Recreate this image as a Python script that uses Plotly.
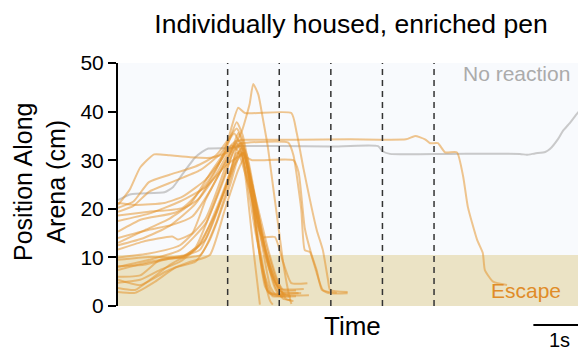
import plotly.graph_objects as go

# ---------------- data (time in s, position in cm) ----------------
gray_t = [0, 0.25, 0.9, 1.07, 1.24, 1.49, 1.63, 1.75, 2.2, 2.36, 3.14, 4.11, 5.04, 5.12, 5.27, 6.43, 7.79, 7.92, 8.08, 8.28, 8.37, 8.53, 8.62, 8.76, 8.89, 9.07]
gray_v = [21.8, 23.0, 23.4, 24.5, 27.0, 30.5, 31.7, 32.4, 32.5, 32.9, 32.9, 32.8, 32.9, 31.9, 31.3, 31.3, 31.3, 31.1, 31.4, 31.7, 32.3, 34.4, 36.0, 37.7, 39.5, 41.6]

esc_t = [0, 0.5, 1.0, 1.4, 1.8, 2.1, 2.3, 2.5, 3.5, 4.5, 5.58, 5.76, 5.95, 6.05, 6.2, 6.34, 6.57, 6.69, 6.78, 6.96, 7.07, 7.11, 7.27, 7.54]
esc_v = [13.0, 15.5, 18.0, 21.0, 27.5, 32.0, 34.0, 34.2, 34.2, 34.3, 34.3, 35.0, 34.3, 33.5, 33.5, 31.6, 31.6, 26.6, 20.4, 13.6, 10.9, 7.4, 5.0, 4.3]

b1_t = [0, 0.5, 1.0, 1.5, 1.9, 2.1, 2.33, 2.46, 3.36, 3.46, 3.6, 3.85, 3.97, 4.07, 4.11, 4.45]
b1_v = [12.5, 14.0, 16.5, 21.0, 28.0, 33.0, 40.8, 39.7, 39.7, 35.8, 28.0, 15.7, 11.5, 5.4, 3.3, 2.9]

b2_t = [0, 0.6, 1.2, 1.7, 2.0, 2.3, 2.5, 3.3, 3.4, 3.55, 3.62, 3.72, 3.97, 4.24]
b2_v = [8.0, 9.5, 11.5, 17.0, 25.0, 33.2, 33.6, 33.6, 31.0, 20.0, 11.5, 11.1, 3.3, 2.7]

b3_t = [0, 0.6, 1.2, 1.7, 2.1, 2.4, 2.6, 3.4, 3.5, 3.62, 3.75, 3.85, 3.95, 4.11, 4.45]
b3_v = [17.5, 19.0, 21.5, 24.5, 29.0, 31.0, 30.0, 30.0, 27.5, 16.0, 10.6, 7.4, 3.3, 2.6, 2.6]

b4_t = [0, 0.6, 1.2, 1.7, 2.2, 2.4, 2.55, 2.62, 2.72, 2.8, 2.9, 3.0, 3.1, 3.2, 3.3, 3.36]
b4_v = [10.0, 10.8, 12.5, 18.0, 32.0, 36.0, 41.5, 45.7, 43.5, 39.0, 33.0, 25.0, 17.0, 9.0, 3.0, 0.4]

a1_t = [0, 0.23, 0.43, 0.7, 1.0, 1.4, 1.8, 2.1, 2.35, 2.5, 2.7, 2.9, 3.05, 3.15, 3.45]
a1_v = [20.8, 24.0, 28.5, 31.2, 31.0, 30.6, 30.5, 31.5, 34.0, 31.0, 20.0, 9.0, 3.5, 2.0, 2.0]

a2_t = [0, 0.3, 0.6, 1.0, 1.5, 1.9, 2.15, 2.3, 2.42, 2.6, 2.75, 2.85, 2.95, 3.3]
a2_v = [20.2, 21.5, 25.5, 27.0, 28.7, 31.0, 34.5, 36.5, 34.0, 22.0, 10.0, 4.0, 2.5, 2.3]

a3_t = [0, 0.3, 0.6, 1.0, 1.6, 2.0, 2.25, 2.38, 2.5, 2.62, 2.72, 2.75]
a3_v = [19.4, 20.6, 23.5, 25.3, 28.0, 31.5, 35.5, 33.0, 24.0, 12.0, 3.0, 0.3]

a4_t = [0, 0.35, 0.9, 1.25, 1.7, 2.0, 2.2, 2.32, 2.55, 2.8, 3.0, 3.15, 3.25, 3.5]
a4_v = [21.2, 20.8, 21.2, 22.5, 26.0, 30.0, 33.0, 32.0, 24.0, 14.0, 6.0, 3.0, 2.6, 2.6]

a5_t = [0, 0.6, 1.25, 1.7, 2.05, 2.3, 2.42, 2.6, 2.85, 3.05, 3.15, 3.6]
a5_v = [18.6, 19.4, 20.2, 25.0, 31.0, 37.8, 35.0, 25.0, 12.0, 5.0, 3.5, 3.5]

a6_t = [0, 0.45, 1.1, 1.55, 1.9, 2.2, 2.35, 2.45, 2.65, 2.85, 3.0, 3.35]
a6_v = [15.3, 17.8, 19.2, 21.9, 27.0, 32.5, 33.0, 29.0, 16.0, 6.0, 2.3, 2.0]

a7_t = [0, 0.6, 1.05, 1.44, 1.8, 2.1, 2.3, 2.45, 2.7, 2.95, 3.15, 3.3, 3.55]
a7_v = [14.0, 15.7, 16.7, 18.4, 24.0, 30.0, 33.5, 29.0, 17.0, 7.0, 3.0, 2.8, 2.6]

a8_t = [0, 0.47, 1.05, 1.16, 1.44, 1.7, 2.0, 2.2, 2.33, 2.45, 2.6, 2.7, 2.8, 3.04, 3.2, 3.36, 3.67]
a8_v = [11.6, 13.2, 14.3, 13.7, 15.0, 21.9, 28.0, 32.0, 35.6, 32.0, 24.0, 17.0, 14.2, 14.2, 9.0, 4.7, 4.7]

a9_t = [0, 0.6, 1.25, 1.5, 1.78, 2.05, 2.25, 2.38, 2.5, 2.7, 2.95, 3.2, 3.7]
a9_v = [9.5, 10.1, 10.1, 12.0, 18.8, 26.0, 32.0, 33.0, 29.0, 18.0, 8.0, 2.5, 2.2]

a10_t = [0, 0.62, 1.2, 1.59, 2.07, 2.3, 2.4, 2.55, 2.7, 2.85, 2.95, 3.0]
a10_v = [7.4, 9.1, 10.1, 11.6, 24.0, 31.5, 31.0, 25.0, 14.0, 5.0, 1.0, 0.3]

a11_t = [0, 0.43, 0.81, 1.3, 1.69, 2.17, 2.3, 2.38, 2.5, 2.65, 2.8, 2.92, 3.2]
a11_v = [6.0, 6.3, 9.5, 10.5, 13.6, 27.0, 32.5, 33.5, 29.0, 18.0, 7.0, 2.8, 2.5]

a12_t = [0, 0.43, 0.81, 1.2, 1.59, 1.98, 2.27, 2.4, 2.55, 2.8, 3.05, 3.2, 3.45]
a12_v = [4.8, 5.4, 7.4, 9.1, 12.6, 21.9, 30.2, 32.5, 27.0, 15.0, 6.0, 3.3, 3.2]

a13_t = [0, 0.33, 0.62, 1.01, 1.5, 1.88, 2.27, 2.42, 2.6, 2.9, 3.1, 3.25, 3.4]
a13_v = [3.7, 3.3, 5.4, 8.5, 11.6, 18.8, 29.2, 31.5, 25.0, 12.0, 5.0, 1.5, 1.0]

a14_t = [0, 0.33, 0.72, 1.11, 1.5, 1.78, 2.17, 2.35, 2.45, 2.6, 2.8, 2.95, 3.05, 3.25]
a14_v = [2.9, 2.7, 5.0, 7.9, 9.1, 13.6, 24.8, 31.0, 31.5, 25.0, 12.0, 4.0, 2.4, 2.4]

a15_t = [0, 0.43, 0.91, 1.4, 1.78, 2.07, 2.33, 2.45, 2.6, 2.85, 3.05, 3.2, 3.35]
a15_v = [5.4, 4.3, 7.0, 9.1, 10.5, 19.8, 28.0, 30.5, 24.0, 11.0, 4.0, 1.5, 1.2]

a16_t = [0, 0.5, 1.0, 1.6, 1.9, 2.2, 2.35, 2.45, 2.6, 2.75, 2.9, 3.0, 3.2]
a16_v = [8.2, 8.5, 9.7, 10.5, 17.0, 27.0, 31.8, 31.0, 23.0, 12.0, 3.5, 2.0, 2.0]

stim_times = [2.125, 3.125, 4.125, 5.125, 6.125]
escape_zone = [0, 10.5]
x_range = [0, 9.07]
y_ticks = [0, 10, 20, 30, 40, 50]
scale_bar = [8.05, 9.07]

orange_tracks = [
    (a1_t, a1_v), (a2_t, a2_v), (a3_t, a3_v), (a4_t, a4_v), (a5_t, a5_v),
    (a6_t, a6_v), (a7_t, a7_v), (a8_t, a8_v), (a9_t, a9_v), (a10_t, a10_v),
    (a11_t, a11_v), (a12_t, a12_v), (a13_t, a13_v), (a14_t, a14_v), (a15_t, a15_v),
    (a16_t, a16_v), (b1_t, b1_v), (b2_t, b2_v), (b3_t, b3_v), (b4_t, b4_v),
    (esc_t, esc_v),
]

FONT = "Liberation Sans, Arial, sans-serif"
ORANGE = "rgba(228,145,40,0.52)"

# page body has an 8px margin, so the figure is 578x344 placed at (8, 8)
W, H = 578, 344
L, T, B = 110, 55, 46
PH = H - T - B

fig = go.Figure()

fig.add_trace(go.Scatter(x=gray_t, y=gray_v, mode="lines",
                         line=dict(color="rgba(175,175,175,0.65)", width=2, shape="spline", smoothing=0.5),
                         hoverinfo="skip", showlegend=False))
for tt, vv in orange_tracks:
    fig.add_trace(go.Scatter(x=tt, y=vv, mode="lines",
                             line=dict(color=ORANGE, width=2, shape="spline", smoothing=0.5),
                             hoverinfo="skip", showlegend=False))

# escape zone band
fig.add_shape(type="rect", xref="paper", yref="y", x0=0, x1=1,
              y0=escape_zone[0], y1=escape_zone[1],
              fillcolor="#ebe3c5", line_width=0, layer="below")

# stimulus dashed lines
for s in stim_times:
    fig.add_shape(type="line", xref="x", yref="paper", x0=s, x1=s, y0=0, y1=1,
                  line=dict(color="#333333", width=1.5, dash="6px,5px"), layer="above")

# scale bar
fig.add_shape(type="line", xref="x", yref="paper", x0=scale_bar[0], x1=scale_bar[1],
              y0=-19 / PH, y1=-19 / PH, line=dict(color="black", width=2))

fig.add_annotation(x=(scale_bar[0] + scale_bar[1]) / 2, xref="x", y=-34 / PH, yref="paper",
                   text="1s", showarrow=False, font=dict(family=FONT, size=20, color="black"),
                   yanchor="middle")
fig.add_annotation(x=0.5, xref="paper", y=-20 / PH, yref="paper", text="Time",
                   showarrow=False, font=dict(family=FONT, size=26, color="black"),
                   yanchor="middle")
fig.add_annotation(x=-(118 - 39) / 468, xref="paper", y=(306 - 182) / 243, yref="paper",
                   text="Position Along<br>Arena (cm)", textangle=-90,
                   showarrow=False, font=dict(family=FONT, size=25, color="black"),
                   xanchor="center", yanchor="middle")
fig.add_annotation(x=7.73, xref="x", y=47.8, yref="y", text="No reaction",
                   showarrow=False, font=dict(family=FONT, size=21, color="#ababab"))
fig.add_annotation(x=7.91, xref="x", y=3.2, yref="y", text="Escape",
                   showarrow=False, font=dict(family=FONT, size=21, color="#e08c28"))

fig.update_layout(
    width=W, height=H,
    margin=dict(l=L, r=0, t=T, b=B),
    paper_bgcolor="white",
    plot_bgcolor="#f8fafd",
    title=dict(text="Individually housed, enriched pen", x=(351 - 8) / W, xanchor="center",
               y=1 - (24 - 8) / H, yanchor="middle", yref="container",
               font=dict(family=FONT, size=26.5, color="black")),
    xaxis=dict(range=x_range, showgrid=False, zeroline=False, showticklabels=False,
               ticks="", showline=False),
    yaxis=dict(range=[0, 50], tickvals=y_ticks, showgrid=False, zeroline=False,
               showline=True, linecolor="black", linewidth=2, ticks="outside",
               ticklen=8, tickwidth=2, tickcolor="black",
               tickfont=dict(family=FONT, size=21, color="black")),
)

fig.write_html("out.html")
